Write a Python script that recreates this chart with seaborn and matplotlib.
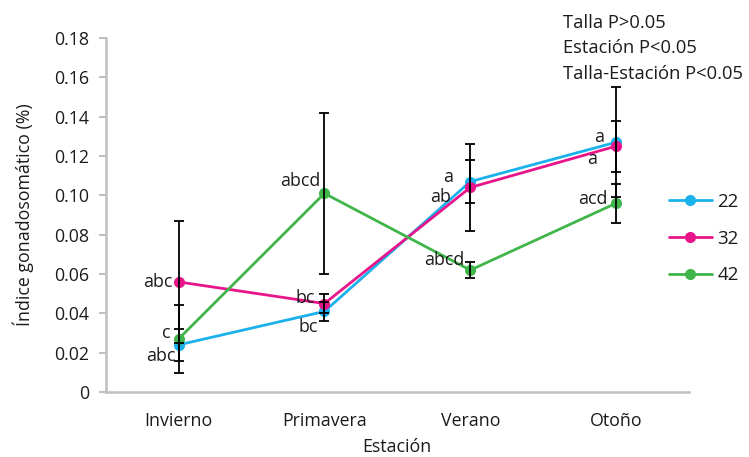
import matplotlib
matplotlib.use("Agg")
import matplotlib.pyplot as plt
import seaborn as sns
import pandas as pd
import numpy as np

# Seasons and size classes
estaciones = ["Invierno", "Primavera", "Verano", "Otoño"]
tallas = ["22", "32", "42"]

# Mean gonadosomatic index (%) per size class and season
igs_22 = [0.024, 0.041, 0.107, 0.127]
igs_32 = [0.056, 0.045, 0.104, 0.125]
igs_42 = [0.027, 0.101, 0.062, 0.096]

# Error (half-length of bars)
err_22 = [0.008, 0.005, 0.011, 0.028]
err_32 = [0.031, 0.005, 0.022, 0.013]
err_42 = [0.0175, 0.041, 0.004, 0.010]

# Significance letters
let_22 = ["abc", "bc", "a", "a"]
let_32 = ["abc", "bc", "ab", "a"]
let_42 = ["c", "abcd", "abcd", "acd"]

y_ticks = [0, 0.02, 0.04, 0.06, 0.08, 0.10, 0.12, 0.14, 0.16, 0.18]
y_tick_labels = ["0", "0.02", "0.04", "0.06", "0.08", "0.10", "0.12", "0.14", "0.16", "0.18"]

colores = {"22": "#1ab1ec", "32": "#e8158a", "42": "#3fb54a"}
txt_color = "#1e1a1b"
fs = 12.8

sns.set_theme(style="white")
plt.rcParams["font.family"] = ["Open Sans", "DejaVu Sans"]

df = pd.DataFrame({
    "Estación": estaciones * 3,
    "IGS": igs_22 + igs_32 + igs_42,
    "Talla": ["22"] * 4 + ["32"] * 4 + ["42"] * 4,
})

fig = plt.figure(figsize=(7.49, 4.57), dpi=100)
ax = fig.add_axes([0.141, 0.142, 0.779, 0.775])

sns.lineplot(data=df, x="Estación", y="IGS", hue="Talla", hue_order=tallas,
             palette=colores, marker="o", markersize=8, markeredgewidth=0,
             linewidth=2, sort=False, ax=ax, zorder=2)

xs = np.arange(len(estaciones))
for vals, errs in [(igs_22, err_22), (igs_32, err_32), (igs_42, err_42)]:
    ax.errorbar(xs, vals, yerr=errs, fmt="none", ecolor="black",
                elinewidth=1.3, capsize=3.5, capthick=1.3, zorder=3)

# Letter labels placed to the left of each point
offsets = {
    "22": [(-2, -8), (-5, -11), (-12, 3), (-9, 4)],
    "32": [(-4, 0), (-7, 4), (-14, -7), (-14, -9)],
    "42": [(-6, 4), (-3, 9), (-4, 7), (-6, 3)],
}
for t, vals, lets in [("22", igs_22, let_22), ("32", igs_32, let_32), ("42", igs_42, let_42)]:
    for i, (v, l) in enumerate(zip(vals, lets)):
        dx, dy = offsets[t][i]
        ax.annotate(l, (xs[i], v), xytext=(dx, dy), textcoords="offset points",
                    ha="right", va="center", fontsize=fs, color=txt_color, zorder=4)

ax.set_xlim(-0.5, 3.5)
ax.set_ylim(0, 0.18)
ax.set_yticks(y_ticks)
ax.set_yticklabels(y_tick_labels)
ax.set_xticks(xs)
ax.set_xticklabels(estaciones)
ax.set_xticks(np.arange(-0.5, 4.0, 1.0), minor=True)
ax.tick_params(axis="x", which="major", length=0, pad=14, labelsize=fs, labelcolor=txt_color)
ax.tick_params(axis="x", which="minor", length=6, width=1.5, color="#bfbfbf", direction="out")
ax.tick_params(axis="y", length=5, width=1.5, color="#bfbfbf", direction="out",
               labelsize=fs, labelcolor=txt_color, pad=7, left=True)

for s in ["top", "right"]:
    ax.spines[s].set_visible(False)
for s in ["left", "bottom"]:
    ax.spines[s].set_color("#bfbfbf")
    ax.spines[s].set_linewidth(1.8)

ax.set_xlabel("Estación", fontsize=fs, color=txt_color, labelpad=6)
ax.set_ylabel("Índice gonadosomático (%)", fontsize=fs, color=txt_color, labelpad=14)

leg = ax.legend(title=None, frameon=False, loc="center left",
                bbox_to_anchor=(0.893, 0.478), bbox_transform=fig.transFigure,
                handlelength=2.3, labelspacing=1.0, borderpad=0, borderaxespad=0,
                fontsize=13.5, handletextpad=0.3)
for txt in leg.get_texts():
    txt.set_color(txt_color)

fig.text(0.752, 0.950, "Talla P>0.05", fontsize=13.2, color=txt_color, va="center")
fig.text(0.752, 0.895, "Estación P<0.05", fontsize=13.2, color=txt_color, va="center")
fig.text(0.752, 0.838, "Talla-Estación P<0.05", fontsize=13.2, color=txt_color, va="center")

fig.savefig("out.png", dpi=100)
